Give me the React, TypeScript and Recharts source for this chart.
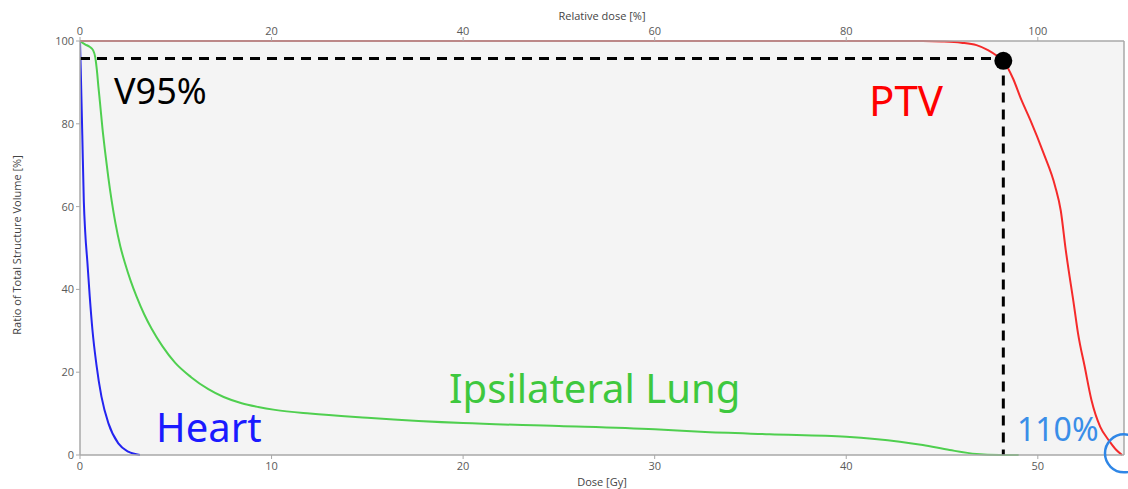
import React from 'react';
import {
  LineChart,
  Line,
  XAxis,
  YAxis,
  CartesianGrid,
  ReferenceLine,
  ReferenceDot,
  Customized,
} from 'recharts';

// Dose-volume histogram: cumulative volume [%] against dose [Gy]
const ptvDose = [0, 44, 45, 46, 46.8, 47.4, 47.9, 48.2, 48.7, 49.15, 49.6, 50.3, 50.9, 51.2, 51.46, 51.9, 52.1, 52.45, 52.8, 53.26, 53.7, 54.1, 54.4];
const ptvVolume = [100, 100, 99.9, 99.6, 99.0, 97.8, 96.3, 95.2, 91, 85.7, 81, 72.9, 65, 59, 49.5, 35.8, 29.4, 21.3, 13.3, 6.8, 3.6, 1.2, 0];

const lungDose = [0, 0.26, 0.5, 0.68, 0.8, 0.88, 0.96, 1.04, 1.17, 1.31, 1.48, 1.65, 1.85, 2.1, 2.35, 2.65, 2.96, 3.35, 3.74, 4.3, 4.96, 5.8, 6.7, 7.5, 8.44, 9.3, 10.18, 12, 15, 20, 25, 30, 32.4, 36, 40, 42.8, 44, 45.4, 46.8, 48, 49];
const lungVolume = [100, 99.2, 98.6, 97.8, 96, 93, 89, 85.3, 79, 73.3, 67, 61.5, 56, 50.5, 46.3, 42, 38.2, 34, 30.5, 26.3, 22.3, 18.8, 15.9, 14, 12.5, 11.6, 10.9, 10.0, 9.0, 7.7, 7.0, 6.2, 5.6, 5.0, 4.4, 3.2, 2.4, 1.2, 0.25, 0.02, 0];

const heartDose = [0, 0.037, 0.12, 0.2, 0.27, 0.39, 0.51, 0.65, 0.85, 1.12, 1.48, 2.0, 2.52, 3.13];
const heartVolume = [100, 93.5, 77.3, 61.2, 54, 46.3, 38.2, 30.2, 22.1, 14.1, 7.7, 2.8, 0.8, 0];

const doseTicks = [0, 10, 20, 30, 40, 50];
const volumeTicks = [0, 20, 40, 60, 80, 100];
const prescriptionDose = 50; // Gy, 100 % relative dose
const doseMax = 54.5;

// V95% marker
const v95Dose = 48.2;
const v95LineVolume = 95.8;
const v95PointVolume = 95.2;

// 110 % hot-spot marker
const hotSpotDose = 54.5;
const hotSpotVolume = 0.4;

const toSeries = (dose: number[], volume: number[]) =>
  dose.map((d, i) => ({ dose: d, volume: volume[i] }));

const ptvData = toSeries(ptvDose, ptvVolume);
const lungData = toSeries(lungDose, lungVolume);
const heartData = toSeries(heartDose, heartVolume);

const axisGray = '#a8a8a8';
const tickStyle = { fontSize: 11, fill: '#5a5a5a', fontFamily: 'Open Sans, sans-serif' };
const axisLineStyle = { stroke: axisGray, strokeWidth: 1.5 };
const tickLineStyle = { stroke: axisGray };
const noteFont = 'Noto Sans, sans-serif';

const Annotations = () => (
  <g>
    <text x={602} y={20} textAnchor="middle" fontSize={11} fill="#444" fontFamily="Open Sans, sans-serif">
      Relative dose [%]
    </text>
    <text x={602} y={486} textAnchor="middle" fontSize={11} fill="#444" fontFamily="Open Sans, sans-serif">
      Dose [Gy]
    </text>
    <text
      x={21}
      y={245}
      textAnchor="middle"
      fontSize={11}
      fill="#444"
      fontFamily="Open Sans, sans-serif"
      transform="rotate(-90 21 245)"
    >
      Ratio of Total Structure Volume [%]
    </text>
    <text x={114} y={104} fontSize={36} fill="#000" fontFamily={noteFont}>V95%</text>
    <text x={869} y={116} fontSize={42} fill="#ff0000" fontFamily={noteFont}>PTV</text>
    <text x={156} y={442} fontSize={40} fill="#1a1aff" fontFamily={noteFont}>Heart</text>
    <text x={449} y={403} fontSize={40} fill="#3ec83e" fontFamily={noteFont}>Ipsilateral Lung</text>
    <text x={1017} y={441} fontSize={32} fill="#3a8ee8" fontFamily={noteFont}>110%</text>
  </g>
);

export default function App() {
  return (
    <div style={{ position: 'absolute', left: 0, top: 0, background: '#fff' }}>
      <LineChart width={1128} height={489} margin={{ top: 0, right: 4, bottom: 0, left: 0 }}>
        <CartesianGrid horizontal={false} vertical={false} fill="#f4f4f4" />
        <XAxis
          type="number"
          dataKey="dose"
          domain={[0, doseMax]}
          ticks={doseTicks}
          allowDataOverflow
          height={34}
          tick={tickStyle}
          tickSize={4}
          tickMargin={3}
          axisLine={axisLineStyle}
          tickLine={tickLineStyle}
        />
        <XAxis
          xAxisId="rel"
          orientation="top"
          type="number"
          dataKey="dose"
          domain={[0, doseMax]}
          ticks={doseTicks}
          allowDataOverflow
          tickFormatter={(v: number) => String(Math.round((v / prescriptionDose) * 100))}
          height={41}
          tick={tickStyle}
          tickSize={4}
          tickMargin={2}
          axisLine={axisLineStyle}
          tickLine={tickLineStyle}
        />
        <YAxis
          type="number"
          dataKey="volume"
          domain={[0, 100]}
          ticks={volumeTicks}
          width={80}
          tick={tickStyle}
          tickSize={4}
          tickMargin={2}
          axisLine={axisLineStyle}
          tickLine={tickLineStyle}
        />
        <ReferenceLine x={doseMax} stroke={axisGray} strokeWidth={1.5} ifOverflow="visible" />
        <Line data={heartData} dataKey="volume" type="monotone" stroke="#2424f0" strokeWidth={2} dot={false} isAnimationActive={false} />
        <Line data={lungData} dataKey="volume" type="monotone" stroke="#4fcf4f" strokeWidth={2} dot={false} isAnimationActive={false} />
        <Line data={ptvData} dataKey="volume" type="monotone" stroke="#f52a2a" strokeWidth={2} dot={false} isAnimationActive={false} />
        <ReferenceLine
          segment={[{ x: 0, y: v95LineVolume }, { x: v95Dose, y: v95LineVolume }]}
          stroke="#000"
          strokeWidth={3}
          strokeDasharray="10 7"
          ifOverflow="visible"
        />
        <ReferenceLine
          segment={[{ x: v95Dose, y: v95LineVolume }, { x: v95Dose, y: 0 }]}
          stroke="#000"
          strokeWidth={3}
          strokeDasharray="10 7"
          ifOverflow="visible"
        />
        <ReferenceDot x={v95Dose} y={v95PointVolume} r={9} fill="#000" stroke="none" ifOverflow="visible" />
        <ReferenceDot
          x={hotSpotDose}
          y={hotSpotVolume}
          r={19}
          fill="none"
          stroke="#2f86e6"
          strokeWidth={2.5}
          ifOverflow="visible"
        />
        <Customized component={Annotations} />
      </LineChart>
    </div>
  );
}
